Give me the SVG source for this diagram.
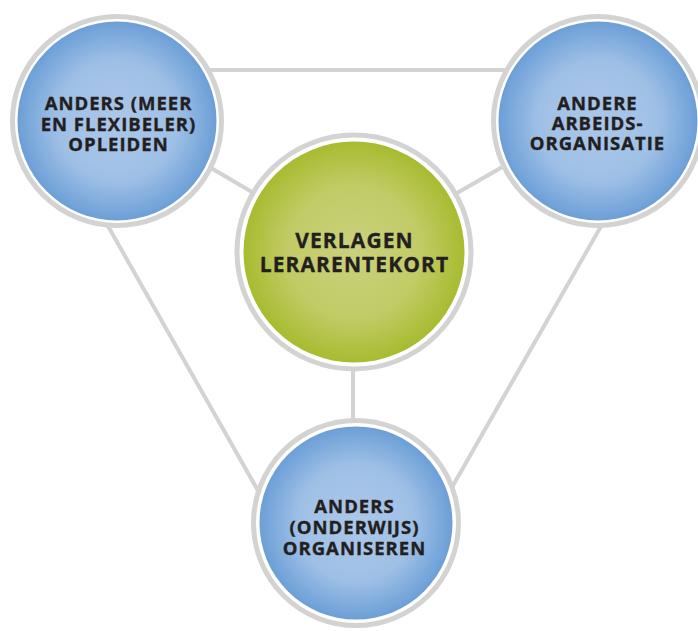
<svg xmlns="http://www.w3.org/2000/svg" width="698" height="631" viewBox="0 0 698 631">
<defs>
<radialGradient id="gBlue" cx="50%" cy="50%" r="50%">
<stop offset="0" stop-color="#abc7e9"/>
<stop offset="0.6" stop-color="#9fc0e6"/>
<stop offset="1" stop-color="#6c9fd7"/>
</radialGradient>
<radialGradient id="gGreen" cx="50%" cy="50%" r="50%">
<stop offset="0" stop-color="#cad17d"/>
<stop offset="0.6" stop-color="#c2cb66"/>
<stop offset="1" stop-color="#a8bb30"/>
</radialGradient>
<style>
.ln{stroke:#d3d3d3;stroke-width:4;fill:none;stroke-linecap:butt}
.ring{fill:#ffffff;stroke:#d3d3d3;stroke-width:5}
.blue{fill:url(#gBlue)}
.green{fill:url(#gGreen)}
.t{font-family:"Open Sans","Noto Sans","Liberation Sans",sans-serif;font-weight:700;fill:#231f20;stroke:#231f20;stroke-width:0.35;text-anchor:middle}
.s{font-size:18.5px;letter-spacing:1px}
.b{font-size:21px;letter-spacing:1.1px}
</style>
</defs>
<rect width="698" height="631" fill="#ffffff"/>
<g id="connectors">
<line class="ln" x1="117" y1="70" x2="598" y2="70"/>
<line class="ln" x1="100" y1="212" x2="265" y2="503"/>
<line class="ln" x1="608" y1="214" x2="443" y2="503"/>
<line class="ln" x1="354" y1="252" x2="160" y2="138"/>
<line class="ln" x1="354" y1="252" x2="560" y2="134"/>
<line class="ln" x1="353" y1="252" x2="353" y2="523"/>
</g>
<g id="node-opleiden">
<circle class="ring" cx="117" cy="121" r="104.5"/>
<circle class="blue" cx="117" cy="121" r="99.5"/>
<text class="t s"><tspan x="118.5" y="110">ANDERS (MEER</tspan><tspan x="118.5" y="130.5">EN FLEXIBELER)</tspan><tspan x="118.5" y="151">OPLEIDEN</tspan></text>
</g>
<g id="node-arbeidsorganisatie">
<circle class="ring" cx="598" cy="121" r="104.5"/>
<circle class="blue" cx="598" cy="121" r="99.5"/>
<text class="t s"><tspan x="597.5" y="110">ANDERE</tspan><tspan x="597.5" y="130">ARBEIDS-</tspan><tspan x="597.5" y="150">ORGANISATIE</tspan></text>
</g>
<g id="node-lerarentekort">
<circle class="ring" cx="354" cy="252" r="117"/>
<circle class="green" cx="354" cy="252" r="110.5"/>
<text class="t b"><tspan x="354.5" y="248">VERLAGEN</tspan><tspan x="354.5" y="272">LERARENTEKORT</tspan></text>
</g>
<g id="node-organiseren">
<circle class="ring" cx="356" cy="523" r="102.5"/>
<circle class="blue" cx="356" cy="523" r="96.5"/>
<text class="t s"><tspan x="354.5" y="513">ANDERS</tspan><tspan x="354.5" y="534">(ONDERWIJS)</tspan><tspan x="354.5" y="555">ORGANISEREN</tspan></text>
</g>
</svg>
